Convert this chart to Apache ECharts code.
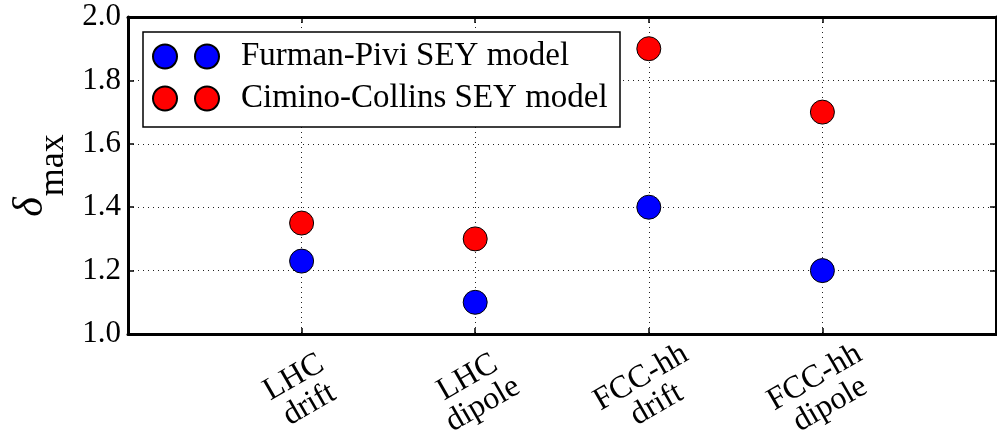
<!DOCTYPE html>
<html>
<head>
<meta charset="utf-8">
<script src="https://cdn.jsdelivr.net/npm/echarts@6/dist/echarts.min.js"></script>
<style>
  html, body { margin: 0; padding: 0; background: #fff; }
  #chart { width: 997px; height: 439px; }
</style>
</head>
<body>
<div id="chart"></div>
<script>
// Peak secondary electron yield for each machine / magnet region
const categories = ['LHC\ndrift', 'LHC\ndipole', 'FCC-hh\ndrift', 'FCC-hh\ndipole'];
const seriesNames = ['Furman-Pivi SEY model', 'Cimino-Collins SEY model'];
const furmanPivi = [1.23, 1.10, 1.40, 1.20];
const ciminoCollins = [1.35, 1.30, 1.90, 1.70];
const yTicks = [1.0, 1.2, 1.4, 1.6, 1.8, 2.0];

const FONT = '"Liberation Serif", "DejaVu Serif", serif';

// Empty slots on both ends leave half-room margins around the four sites
const axisCats = [''].concat(categories, ['']);
const toPoints = vals => vals.map((v, i) => [i + 1, v]);

// Two-dot marker used in the legend
const twoDots = 'path://M0,12A12,12,0,1,1,24,12A12,12,0,1,1,0,12Z M42,12A12,12,0,1,1,66,12A12,12,0,1,1,42,12Z';

const gridLine = { show: true, lineStyle: { color: '#222', width: 1, type: [1, 4] } };
const frameLine = { show: true, lineStyle: { color: '#000', width: 3 } };
const innerTick = { show: true, inside: true, length: 6, lineStyle: { color: '#000', width: 1.5 } };

const chart = echarts.init(document.getElementById('chart'), null, { renderer: 'canvas' });
chart.setOption({
  animation: false,
  backgroundColor: '#fff',
  grid: { left: 128, right: 1, top: 17, bottom: 105, containLabel: false, outerBoundsMode: 'none' },
  xAxis: [{
    type: 'category',
    data: axisCats,
    boundaryGap: false,
    axisLine: frameLine,
    axisTick: innerTick,
    splitLine: gridLine,
    axisLabel: {
      rotate: 30,
      align: 'center',
      verticalAlign: 'middle',
      margin: 57,
      interval: 0,
      fontFamily: FONT,
      fontSize: 32,
      lineHeight: 31,
      color: '#000'
    }
  }, {
    type: 'category',
    data: axisCats,
    boundaryGap: false,
    position: 'top',
    axisLine: frameLine,
    axisTick: innerTick,
    axisLabel: { show: false },
    splitLine: { show: false }
  }],
  yAxis: [{
    type: 'value',
    min: yTicks[0],
    max: yTicks[yTicks.length - 1],
    interval: 0.2,
    axisLine: frameLine,
    axisTick: innerTick,
    splitLine: gridLine,
    axisLabel: {
      formatter: v => v.toFixed(1),
      fontFamily: FONT,
      fontSize: 31,
      color: '#000',
      margin: 7
    },
    name: '{d|δ}{s|max}',
    nameLocation: 'middle',
    nameGap: 51,
    nameRotate: 90,
    nameTextStyle: {
      rich: {
        d: { fontFamily: FONT, fontStyle: 'italic', fontSize: 42, color: '#000', lineHeight: 40, verticalAlign: 'top' },
        s: { fontFamily: FONT, fontSize: 36, color: '#000', lineHeight: 40, padding: [25, 0, 0, 1], verticalAlign: 'top' }
      }
    }
  }, {
    type: 'value',
    min: yTicks[0],
    max: yTicks[yTicks.length - 1],
    interval: 0.2,
    position: 'right',
    axisLine: frameLine,
    axisTick: innerTick,
    axisLabel: { show: false },
    splitLine: { show: false }
  }],
  graphic: [{
    type: 'rect',
    z: 3,
    shape: { x: 143, y: 32, width: 477, height: 95 },
    style: { fill: '#fff', stroke: '#000', lineWidth: 1.5 }
  }],
  legend: {
    orient: 'vertical',
    left: 152,
    top: 40,
    padding: 0,
    itemGap: 9,
    itemWidth: 66,
    itemHeight: 24,
    icon: twoDots,
    z: 5,
    data: seriesNames,
    textStyle: { fontFamily: FONT, fontSize: 33, color: '#000', padding: [0, 0, 0, 17] }
  },
  series: [{
    name: seriesNames[0],
    type: 'scatter',
    symbol: 'circle',
    symbolSize: 24,
    itemStyle: { color: '#0000ff', borderColor: '#000', borderWidth: 1, opacity: 1 },
    data: toPoints(furmanPivi),
    z: 4
  }, {
    name: seriesNames[1],
    type: 'scatter',
    symbol: 'circle',
    symbolSize: 24,
    itemStyle: { color: '#ff0000', borderColor: '#000', borderWidth: 1, opacity: 1 },
    data: toPoints(ciminoCollins),
    z: 4
  }]
});
</script>
</body>
</html>
